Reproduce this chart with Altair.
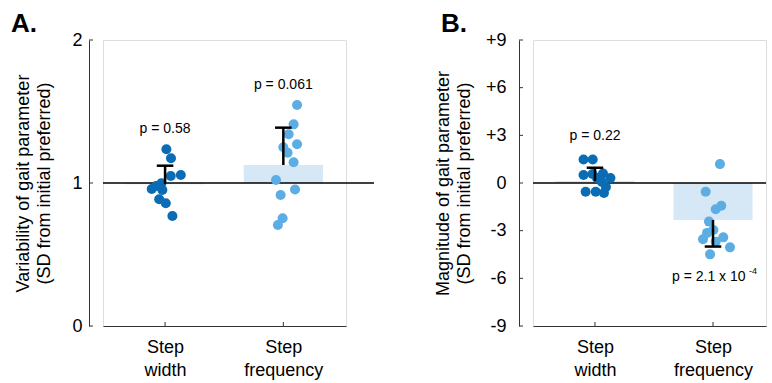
import altair as alt
import pandas as pd

categories = ["Step width", "Step frequency"]
cat_pos = [1, 2]

# Panel A: variability (SD from initial preferred)
a_width_vals = [1.236, 1.173, 1.056, 1.049, 0.998, 0.958, 0.951, 0.886, 0.858, 0.769, 0.979]
a_width_jit = [0.011, 0.05, 0.133, 0.048, -0.031, -0.113, -0.023, -0.05, 0.006, 0.062, -0.076]
a_freq_vals = [1.545, 1.410, 1.341, 1.271, 1.250, 1.211, 1.145, 1.021, 0.916, 0.955, 0.753, 0.706]
a_freq_jit = [0.116, 0.087, 0.045, 0.116, 0.0, 0.036, 0.087, -0.062, -0.023, 0.099, -0.006, -0.046]
a_means = [0.992, 1.126]
a_errs = [1.121, 1.387]
a_pvals = ["p = 0.58", "p = 0.061"]

# Panel B: magnitude (SD from initial preferred)
b_width_vals = [1.48, 1.48, 0.50, 0.57, 0.60, 0.31, 0.06, -0.25, -0.55, -0.55, -0.63, 0.31]
b_width_jit = [-0.097, -0.019, -0.097, -0.021, 0.068, 0.131, 0.059, 0.093, -0.079, 0.006, 0.076, 0.017]
b_freq_vals = [1.19, -0.55, -1.65, -1.43, -2.43, -2.96, -3.54, -3.42, -3.69, -4.05, -4.49, -3.14]
b_freq_jit = [0.059, -0.062, 0.023, 0.07, -0.034, 0.003, -0.085, 0.087, 0.023, 0.144, -0.025, -0.05]
b_means = [0.12, -2.33]
b_errs = [0.96, -4.0]
b_pvals = ["p = 0.22", "p = 2.1 x 10"]
b_pexp = "-4"

FONT = "Liberation Sans"
DARK = "#0a6cb5"
LIGHT = "#5cade3"
BARC = "#d6e8f5"
AXC = "#333333"
H = 286


def panel(vw, jw, vf, jf, means, errs, baseline, ydom, yticks, ylabel_expr, ytitle,
          letter, pvals, label_pad, title_pad, xmax, width, refw,
          bottom_second=False, pexp=None):
    pts = pd.DataFrame({
        "x": [cat_pos[0] + j for j in jw] + [cat_pos[1] + j for j in jf],
        "y": vw + vf,
        "cat": [categories[0]] * len(vw) + [categories[1]] * len(vf),
    })
    summ = pd.DataFrame({"x": cat_pos, "mean": means, "err": errs,
                         "base": [baseline] * 2, "cat": categories})
    xs = alt.Scale(domain=[0.475, xmax], nice=False, zero=False)
    ys = alt.Scale(domain=ydom, nice=False, zero=False)

    xaxis = alt.Axis(values=cat_pos, ticks=False, grid=False, title=None,
                     domainColor=AXC, labelFontSize=18, labelLineHeight=23,
                     labelPadding=12, labelColor="black", labelFont=FONT,
                     labelExpr="datum.value == 1 ? ['Step','width'] : ['Step','frequency']")
    yaxis = alt.Axis(values=yticks, ticks=False, grid=False, offset=14,
                     domainColor=AXC, labelFontSize=18, labelPadding=label_pad,
                     labelColor="black", labelFont=FONT, labelExpr=ylabel_expr,
                     title=ytitle, titleFontSize=18, titleFontWeight="normal",
                     titleLineHeight=21, titlePadding=title_pad, titleColor="black",
                     titleFont=FONT)

    bars = alt.Chart(summ).transform_calculate(
        xl="datum.x - 0.335", xr="datum.x + 0.335"
    ).mark_bar(color=BARC).encode(
        x=alt.X("xl:Q", scale=xs, axis=xaxis),
        x2="xr:Q",
        y=alt.Y("base:Q", scale=ys, axis=yaxis),
        y2="mean:Q",
    )
    refline = alt.Chart(pd.DataFrame({"b": [baseline]})).mark_rule(
        color="black", strokeWidth=1.5
    ).encode(x=alt.value(0), x2=alt.value(refw), y=alt.Y("b:Q", scale=ys))
    yt = alt.Chart(pd.DataFrame({"t": yticks})).mark_rule(
        color=AXC, strokeWidth=1
    ).encode(y=alt.Y("t:Q", scale=ys), x=alt.value(-14), x2=alt.value(-10))
    xt = alt.Chart(pd.DataFrame({"t": cat_pos})).mark_rule(
        color=AXC, strokeWidth=1
    ).encode(x=alt.X("t:Q", scale=xs), y=alt.value(H), y2=alt.value(H - 4))
    points = alt.Chart(pts).mark_circle(size=100, opacity=1).encode(
        x=alt.X("x:Q", scale=xs),
        y=alt.Y("y:Q", scale=ys),
        color=alt.Color("cat:N", scale=alt.Scale(domain=categories, range=[DARK, LIGHT]),
                        legend=None),
    )
    ebar = alt.Chart(summ).mark_rule(color="black", strokeWidth=2.5).encode(
        x=alt.X("x:Q", scale=xs), y=alt.Y("mean:Q", scale=ys), y2="err:Q")
    ecap = alt.Chart(summ).transform_calculate(
        xl="datum.x - 0.07", xr="datum.x + 0.07"
    ).mark_rule(color="black", strokeWidth=2.5).encode(
        x=alt.X("xl:Q", scale=xs), x2="xr:Q", y=alt.Y("err:Q", scale=ys))

    tops = pd.DataFrame({"x": cat_pos, "y": [max(vw), max(vf)], "label": pvals})
    layers = [bars, refline, yt, xt, points, ebar, ecap]
    if bottom_second:
        t1 = alt.Chart(tops.iloc[[0]]).mark_text(
            fontSize=14, font=FONT, baseline="middle", dy=-23, color="black"
        ).encode(x=alt.X("x:Q", scale=xs), y=alt.Y("y:Q", scale=ys), text="label:N")
        bot = pd.DataFrame({"x": [cat_pos[1]], "y": [min(vf)], "label": [pvals[1]],
                            "exp": [pexp]})
        t2 = alt.Chart(bot).mark_text(
            fontSize=14, font=FONT, baseline="middle", align="left", dx=-41, dy=23,
            color="black"
        ).encode(x=alt.X("x:Q", scale=xs), y=alt.Y("y:Q", scale=ys), text="label:N")
        t3 = alt.Chart(bot).mark_text(
            fontSize=9, font=FONT, baseline="middle", align="left", dx=36, dy=17,
            color="black"
        ).encode(x=alt.X("x:Q", scale=xs), y=alt.Y("y:Q", scale=ys), text="exp:N")
        layers += [t1, t2, t3]
    else:
        t = alt.Chart(tops).mark_text(
            fontSize=14, font=FONT, baseline="middle", dy=-20, color="black"
        ).encode(x=alt.X("x:Q", scale=xs), y=alt.Y("y:Q", scale=ys), text="label:N")
        layers.append(t)
    lett = alt.Chart(pd.DataFrame({"l": [letter]})).mark_text(
        fontSize=26, fontWeight="bold", font=FONT, align="left", baseline="alphabetic",
        color="black"
    ).encode(x=alt.value(-92), y=alt.value(-8), text="l:N")
    layers.append(lett)
    return alt.layer(*layers).properties(width=width, height=H)


ytitle = ["Variability of gait parameter", "(SD from initial preferred)"]
ytitle_b = ["Magnitude of gait parameter", "(SD from initial preferred)"]

pa = panel(a_width_vals, a_width_jit, a_freq_vals, a_freq_jit, a_means, a_errs, 1,
           [0, 2], [0, 1, 2], "datum.value + ''", ytitle, "A.", a_pvals, 7, 18,
           2.53, 243, 271)
pb = panel(b_width_vals, b_width_jit, b_freq_vals, b_freq_jit, b_means, b_errs, 0,
           [-9, 9], [-9, -6, -3, 0, 3, 6, 9],
           "datum.value > 0 ? '+' + datum.value : '' + datum.value",
           ytitle_b, "B.", b_pvals, 13, 12, 2.449, 233, 233,
           bottom_second=True, pexp=b_pexp)

chart = alt.hconcat(pa, pb, spacing=57).properties(
    padding={"left": 10, "top": 10, "right": 0, "bottom": 0}
).configure_view(stroke=None).configure(font=FONT)

chart.save("out.html", embed_options={"renderer": "svg", "actions": False})
